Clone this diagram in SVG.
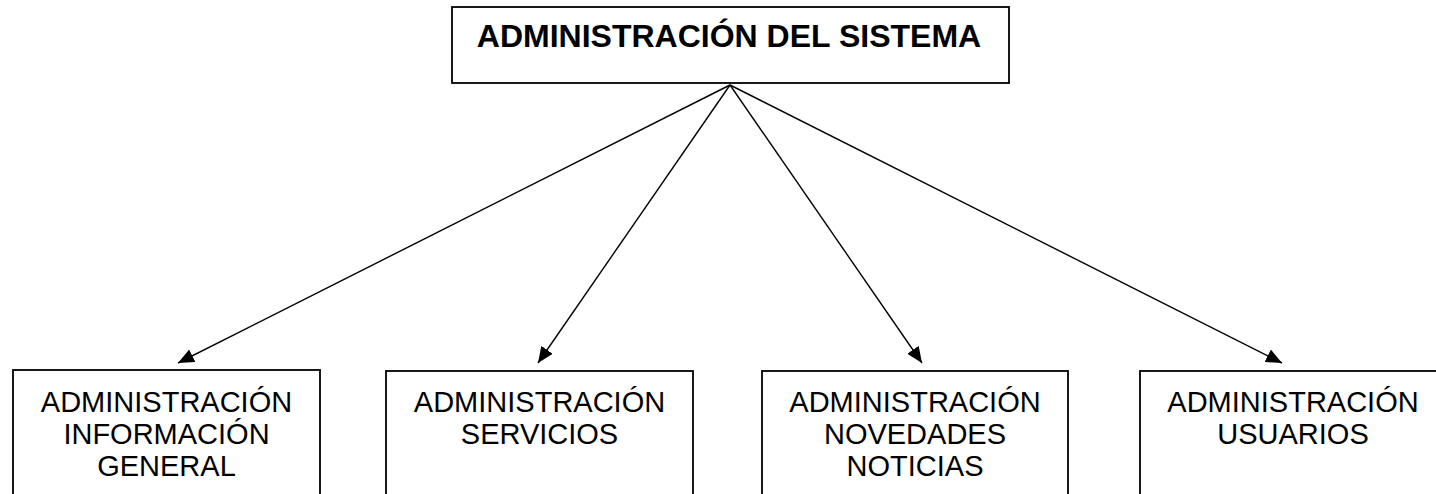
<svg xmlns="http://www.w3.org/2000/svg" width="1436" height="494" viewBox="0 0 1436 494">
<style>
.box{fill:#fff;stroke:#000;stroke-width:1.8}
.conn{stroke:#000;stroke-width:1.4;fill:none;marker-end:url(#ah)}
.t{font-family:"Liberation Sans",Arial,sans-serif;font-size:29px;fill:#000;text-anchor:middle}
.tb{font-family:"Liberation Sans",Arial,sans-serif;font-size:32px;font-weight:bold;fill:#000;text-anchor:middle}
</style>
<defs>
<marker id="ah" viewBox="0 0 16 14" refX="16" refY="7" markerWidth="16" markerHeight="14" markerUnits="userSpaceOnUse" orient="auto">
<path d="M0,0 L16,7 L0,14 Z" fill="#000"/>
</marker>
</defs>
<rect width="1436" height="494" fill="#fff"/>
<g id="root">
<rect class="box" x="452" y="7" width="557" height="76"/>
<text class="tb" x="729" y="47">ADMINISTRACIÓN DEL SISTEMA</text>
</g>
<g id="connectors">
<line class="conn" x1="730" y1="85" x2="178" y2="363"/>
<line class="conn" x1="730" y1="85" x2="538" y2="363"/>
<line class="conn" x1="730" y1="85" x2="922" y2="363"/>
<line class="conn" x1="730" y1="85" x2="1282" y2="363"/>
</g>
<g id="n1">
<rect class="box" x="13" y="370" width="307" height="140"/>
<text class="t" x="166.5" y="412">ADMINISTRACIÓN</text>
<text class="t" x="166.5" y="444">INFORMACIÓN</text>
<text class="t" x="166.5" y="476">GENERAL</text>
</g>
<g id="n2">
<rect class="box" x="386" y="371" width="307" height="140"/>
<text class="t" x="539.5" y="412">ADMINISTRACIÓN</text>
<text class="t" x="539.5" y="444">SERVICIOS</text>
</g>
<g id="n3">
<rect class="box" x="762" y="371" width="306" height="140"/>
<text class="t" x="915" y="412">ADMINISTRACIÓN</text>
<text class="t" x="915" y="444">NOVEDADES</text>
<text class="t" x="915" y="476">NOTICIAS</text>
</g>
<g id="n4">
<rect class="box" x="1140" y="371" width="306" height="140"/>
<text class="t" x="1293" y="412">ADMINISTRACIÓN</text>
<text class="t" x="1293" y="444">USUARIOS</text>
</g>
</svg>
